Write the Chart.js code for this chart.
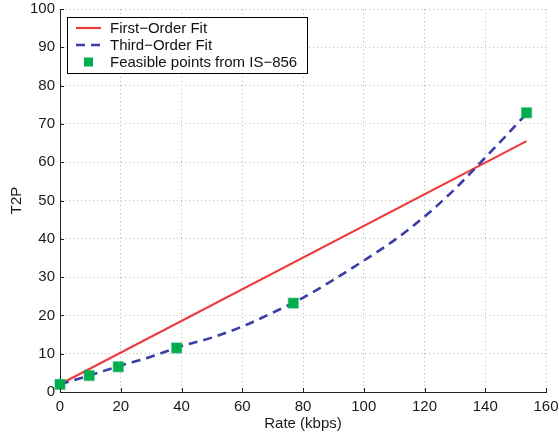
<!DOCTYPE html>
<html>
<head>
<meta charset="UTF-8">
<title>T2P vs Rate</title>
<style>
    html, body { margin: 0; padding: 0; background: #fff; }
    #wrap { width: 559px; height: 441px; }
</style>
</head>
<body>
<div id="wrap"><canvas id="t2pChart" width="559" height="441"></canvas></div>
<script src="https://cdn.jsdelivr.net/npm/chart.js"></script>
<script>
    // feasible points
    const rates = [0, 9.6, 19.2, 38.4, 76.8, 153.6];
    const t2p = [2, 4.3, 6.6, 11.5, 23.2, 72.9];

    // first-order fit (straight line, end points)
    const linRates = [0, 153.6];
    const linT2p = [2, 65.5];

    // third-order fit
    const cubRates = [0, 10, 20, 30, 40, 50, 60, 70, 80, 90, 100, 110, 120, 130, 140, 150, 153.6];
    const cubT2p = [2, 4.4, 6.9, 9.2, 12, 14.2, 17.1, 20.7, 24.6, 29.3, 34.3, 39.6, 45.8, 53.0, 61.2, 69.6, 72.7];

    const xTicks = [0, 20, 40, 60, 80, 100, 120, 140, 160];
    const yTicks = [0, 10, 20, 30, 40, 50, 60, 70, 80, 90, 100];

    const labels = ['First\u2212Order Fit', 'Third\u2212Order Fit', 'Feasible points from IS\u2212856'];

    const fontFam = '"Liberation Sans", Arial, Helvetica, sans-serif';

    function toPts(xs, ys) {
        return xs.map((x, i) => ({ x: x, y: ys[i] }));
    }

    // small inward ticks, matlab style
    const innerTicks = {
        id: 'innerTicks',
        afterDraw(chart) {
            const ctx = chart.ctx;
            const area = chart.chartArea;
            const xs = chart.scales.x, ys = chart.scales.y;
            ctx.save();
            ctx.strokeStyle = '#222';
            ctx.lineWidth = 1;
            ctx.beginPath();
            xTicks.forEach(v => {
                const px = Math.round(xs.getPixelForValue(v)) + 0.5;
                ctx.moveTo(px, area.bottom);
                ctx.lineTo(px, area.bottom - 4);
            });
            yTicks.forEach(v => {
                const py = Math.round(ys.getPixelForValue(v)) + 0.5;
                ctx.moveTo(area.left, py);
                ctx.lineTo(area.left + 4, py);
            });
            ctx.stroke();
            ctx.restore();
        }
    };

    // boxed legend inside the plot, top left
    const boxLegend = {
        id: 'boxLegend',
        afterDraw(chart) {
            const ctx = chart.ctx;
            const sets = chart.data.datasets;
            const x0 = 67, y0 = 17, w = 240, h = 56;
            ctx.save();
            ctx.fillStyle = '#fff';
            ctx.fillRect(x0, y0, w, h);
            ctx.strokeStyle = '#000';
            ctx.lineWidth = 1;
            ctx.strokeRect(x0 + 0.5, y0 + 0.5, w, h);
            ctx.font = '15px ' + fontFam;
            ctx.textBaseline = 'middle';
            const rowY = [28, 45, 62];
            sets.forEach((ds, i) => {
                const cy = rowY[i];
                if (ds.showLine === false) {
                    ctx.fillStyle = ds.pointBackgroundColor;
                    ctx.fillRect(84, cy - 4.5, 9, 9);
                } else {
                    ctx.strokeStyle = ds.borderColor;
                    ctx.lineWidth = ds.borderWidth;
                    ctx.setLineDash(ds.borderDash || []);
                    ctx.beginPath();
                    ctx.moveTo(76, cy);
                    ctx.lineTo(101, cy);
                    ctx.stroke();
                    ctx.setLineDash([]);
                }
                ctx.fillStyle = '#111';
                ctx.fillText(ds.label, 110, cy + 1);
            });
            ctx.restore();
        }
    };

    new Chart(document.getElementById('t2pChart'), {
        type: 'line',
        data: {
            datasets: [{
                label: labels[0],
                data: toPts(linRates, linT2p),
                borderColor: '#ee3b3b',
                borderWidth: 2.2,
                pointRadius: 0,
                fill: false,
                order: 2
            }, {
                label: labels[1],
                data: toPts(cubRates, cubT2p),
                borderColor: '#3a3ea2',
                borderWidth: 2.6,
                borderDash: [9, 6],
                cubicInterpolationMode: 'monotone',
                pointRadius: 0,
                fill: false,
                order: 1
            }, {
                label: labels[2],
                data: toPts(rates, t2p),
                showLine: false,
                pointStyle: 'rect',
                pointRadius: 7,
                pointBackgroundColor: '#00ad4f',
                pointBorderColor: 'rgba(0,173,79,0.45)',
                pointBorderWidth: 1.5,
                clip: false,
                order: 0
            }]
        },
        options: {
            responsive: false,
            animation: false,
            layout: { padding: { top: 9, right: 13, left: 0, bottom: 0 } },
            plugins: {
                legend: { display: false },
                tooltip: { enabled: false }
            },
            scales: {
                x: {
                    type: 'linear',
                    min: 0,
                    max: 160,
                    afterFit: s => { s.height = 49; s.paddingLeft = 0; s.paddingRight = 0; },
                    afterBuildTicks: s => { s.ticks = xTicks.map(v => ({ value: v })); },
                    grid: { color: '#b8b8b8', lineWidth: 1, drawTicks: false },
                    border: { display: true, color: '#222', width: 1, dash: [1, 3] },
                    ticks: { color: '#1a1a1a', padding: 6, font: { family: fontFam, size: 15 } },
                    title: {
                        display: true,
                        text: 'Rate (kbps)',
                        color: '#1a1a1a',
                        font: { family: fontFam, size: 15 },
                        padding: { top: 4, bottom: 8 }
                    }
                },
                y: {
                    type: 'linear',
                    min: 0,
                    max: 100,
                    afterFit: s => { s.width = 60; s.paddingTop = 0; s.paddingBottom = 0; },
                    afterBuildTicks: s => { s.ticks = yTicks.map(v => ({ value: v })); },
                    grid: { color: '#b8b8b8', lineWidth: 1, drawTicks: false },
                    border: { display: true, color: '#222', width: 1, dash: [1, 3] },
                    ticks: { color: '#1a1a1a', padding: 5, font: { family: fontFam, size: 15 } },
                    title: {
                        display: true,
                        text: 'T2P',
                        color: '#1a1a1a',
                        font: { family: fontFam, size: 15 },
                        padding: { top: 8, bottom: 4 }
                    }
                }
            }
        },
        plugins: [innerTicks, boxLegend]
    });
</script>
</body>
</html>
